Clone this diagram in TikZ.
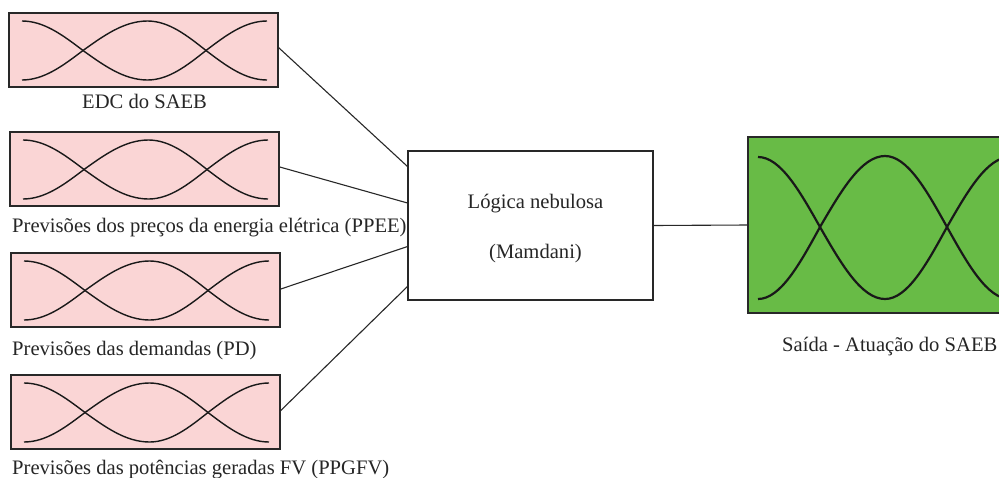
\documentclass[tikz,border=0pt]{standalone}
\usepackage{fontspec}
\setmainfont{Liberation Serif}
\usetikzlibrary{calc}
\definecolor{inpink}{RGB}{250,213,213}
\definecolor{outgreen}{RGB}{104,187,70}
\definecolor{edge}{RGB}{40,40,40}
\tikzset{
  inbox/.style={draw=edge, line width=1.6pt, fill=inpink, anchor=north west,
    minimum width=269pt, minimum height=74pt, inner sep=0pt, outer sep=0pt},
  logicbox/.style={draw=edge, line width=1.4pt, fill=white, anchor=north west,
    minimum width=245pt, minimum height=149pt, inner sep=0pt, outer sep=0pt},
  outbox/.style={draw=edge, line width=1.8pt, fill=outgreen, anchor=north west,
    minimum width=272pt, minimum height=176pt, inner sep=0pt, outer sep=0pt},
  lbl/.style={font=\fontsize{20.6}{24}\selectfont, text=black!85, inner sep=0pt},
  link/.style={draw=edge, line width=1.1pt},
  fuzzy/.style={draw=black!90, line width=1.4pt},
  % pair of crossing membership curves inside an input box
  inwave/.pic={
    \draw[fuzzy] (13,8) cos (74,37.5) sin (138.5,67) cos (197,37.5) sin (258,8);
    \draw[fuzzy] (13,67) cos (74,37.5) sin (138.5,8) cos (197,37.5) sin (258,67);
  },
}
\begin{document}
\begin{tikzpicture}[x=1pt, y=-1pt]
  \clip (0,0) rectangle (999,477);
  \fill[white] (0,0) rectangle (999,477);

  % input boxes
  \node[inbox] (b1) at (9,13) {};
  \node[inbox] (b2) at (10,132) {};
  \node[inbox] (b3) at (11,253) {};
  \node[inbox] (b4) at (11,375) {};
  \pic at (b1.north west) {inwave};
  \pic at (b2.north west) {inwave};
  \pic at (b3.north west) {inwave};
  \pic at (b4.north west) {inwave};

  \node[lbl, anchor=base west] (t1) at (82,108) {EDC do SAEB};
  \node[lbl, anchor=base west] (t2) at (12,232) {Previsões dos preços da energia elétrica (PPEE)};
  \node[lbl, anchor=base west] (t3) at (12,355) {Previsões das demandas (PD)};
  \node[lbl, anchor=base west] (t4) at (12,474) {Previsões das potências geradas FV (PPGFV)};

  % inference block
  \node[logicbox] (fl) at (408,151) {};
  \node[lbl, anchor=base] (fl1) at (535.5,208) {Lógica nebulosa};
  \node[lbl, anchor=base] (fl2) at (535.5,258) {(Mamdani)};

  % output block
  \node[outbox] (out) at (748,137) {};
  \draw[black!90, line width=2.2pt]
    ($(out.north west)+(10,20)$) cos ($(out.north west)+(72,90)$)
    sin ($(out.north west)+(137,162)$) cos ($(out.north west)+(199,90)$)
    sin ($(out.north west)+(262,20)$);
  \draw[black!90, line width=2.2pt]
    ($(out.north west)+(10,162)$) cos ($(out.north west)+(72,90)$)
    sin ($(out.north west)+(137,19)$) cos ($(out.north west)+(199,90)$)
    sin ($(out.north west)+(262,162)$);
  \node[lbl, anchor=base west] (tout) at (782,351) {Saída - Atuação do SAEB};

  % connections
  \draw[link] ($(b1.north east)!0.46!(b1.south east)$) -- ($(fl.north west)!0.107!(fl.south west)$);
  \draw[link] ($(b2.north east)!0.47!(b2.south east)$) -- ($(fl.north west)!0.35!(fl.south west)$);
  \draw[link] ($(b3.north east)!0.49!(b3.south east)$) -- ($(fl.north west)!0.64!(fl.south west)$);
  \draw[link] ($(b4.north east)!0.49!(b4.south east)$) -- ($(fl.north west)!0.906!(fl.south west)$);
  \draw[link] (fl.east) -- (out.west);
\end{tikzpicture}
\end{document}
